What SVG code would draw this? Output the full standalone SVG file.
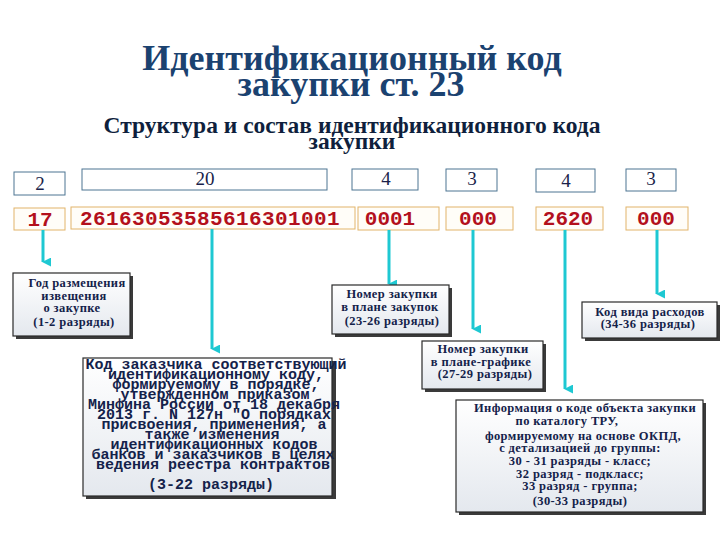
<svg xmlns="http://www.w3.org/2000/svg" width="720" height="540" viewBox="0 0 720 540">
<defs>
<linearGradient id="bg" x1="0" y1="0" x2="0" y2="1">
<stop offset="0" stop-color="#ffffff"/>
<stop offset="1" stop-color="#e4e8ee"/>
</linearGradient>
<marker id="ah" viewBox="0 0 10 10" refX="5" refY="9" markerWidth="9" markerHeight="9" markerUnits="userSpaceOnUse" orient="auto-start-reverse">
<path d="M0,0 L10,0 L5,10 Z" fill="#1ec8d2"/>
</marker>
<style>
.title{font-family:"Liberation Serif","DejaVu Serif",serif;font-weight:700;fill:#1b4270;text-anchor:middle}
.sub{font-family:"Liberation Serif","DejaVu Serif",serif;font-weight:700;fill:#0f1f3d;text-anchor:middle}
.cnt{fill:#ffffff;stroke:#4d7592;stroke-width:1}
.cntt{font-family:"Liberation Serif",serif;font-size:19px;fill:#1a1f4a;text-anchor:middle}
.val{fill:#fffdf8;stroke:#e2b46a;stroke-width:1}
.valt{font-family:"Liberation Mono",monospace;font-weight:bold;font-size:21px;fill:#b3101c;text-anchor:middle}
.sh{fill:#3a3a3a}
.box{fill:url(#bg);stroke:#2a2a2a;stroke-width:1.2}
.bt{font-family:"Liberation Serif",serif;font-weight:700;font-size:12.5px;letter-spacing:0.4px;fill:#14224a;text-anchor:middle}
.mt{font-family:"Liberation Mono",monospace;font-weight:bold;font-size:15px;fill:#14224a;text-anchor:middle}
.conn{stroke:#1ec8d2;stroke-width:3;fill:none;marker-end:url(#ah)}
</style>
</defs>
<rect width="720" height="540" fill="#ffffff"/>

<g id="title">
<text class="title" x="352" y="70" font-size="36">Идентификационный код</text>
<text class="title" x="351" y="96" font-size="36">закупки ст. 23</text>
<text class="sub" x="352" y="133" font-size="23.5">Структура и состав идентификационного кода</text>
<text class="sub" x="352" y="149" font-size="23.5">закупки</text>
</g>

<g id="count-row">
<g id="c1"><rect class="cnt" x="14" y="172" width="51" height="23"/><text class="cntt" x="40" y="190">2</text></g>
<g id="c2"><rect class="cnt" x="82" y="169" width="245" height="21"/><text class="cntt" x="205" y="185">20</text></g>
<g id="c3"><rect class="cnt" x="352" y="169" width="66" height="21"/><text class="cntt" x="386" y="185">4</text></g>
<g id="c4"><rect class="cnt" x="446" y="169" width="51" height="22"/><text class="cntt" x="472" y="185">3</text></g>
<g id="c5"><rect class="cnt" x="536" y="169" width="59" height="23"/><text class="cntt" x="566" y="187">4</text></g>
<g id="c6"><rect class="cnt" x="626" y="169" width="50" height="22"/><text class="cntt" x="651" y="185">3</text></g>
</g>

<g id="value-row">
<g id="v1"><rect class="val" x="14" y="208" width="51" height="22"/><text class="valt" x="40" y="226">17</text></g>
<g id="v2"><rect class="val" x="71" y="207" width="284" height="22"/><text class="valt" x="210" y="225" letter-spacing="0.4">26163053585616301001</text></g>
<g id="v3"><rect class="val" x="358" y="207" width="81" height="23"/><text class="valt" x="390" y="225">0001</text></g>
<g id="v4"><rect class="val" x="446" y="207" width="67" height="23"/><text class="valt" x="478" y="225">000</text></g>
<g id="v5"><rect class="val" x="536" y="207" width="67" height="23"/><text class="valt" x="568" y="225">2620</text></g>
<g id="v6"><rect class="val" x="626" y="207" width="62" height="23"/><text class="valt" x="656" y="225">000</text></g>
</g>

<g id="connectors">
<line class="conn" x1="43" y1="230" x2="43" y2="262"/>
<line class="conn" x1="212" y1="229" x2="212" y2="349"/>
<line class="conn" x1="389" y1="230" x2="389" y2="284"/>
<line class="conn" x1="473" y1="230" x2="473" y2="329"/>
<line class="conn" x1="565" y1="230" x2="565" y2="389"/>
<line class="conn" x1="657" y1="230" x2="657" y2="294"/>
</g>

<g id="n-year">
<rect class="sh" x="16" y="276" width="117" height="63"/>
<rect class="box" x="13" y="273" width="117" height="63"/>
<text class="bt" x="77" y="287">Год размещения</text>
<text class="bt" x="74" y="300">извещения</text>
<text class="bt" x="72" y="312">о закупке</text>
<text class="bt" x="74" y="326">(1-2 разряды)</text>
</g>

<g id="n-plan">
<rect class="sh" x="335" y="288" width="117" height="49"/>
<rect class="box" x="332" y="285" width="117" height="49"/>
<text class="bt" x="392" y="298">Номер закупки</text>
<text class="bt" x="390" y="311">в плане закупок</text>
<text class="bt" x="392" y="325">(23-26 разряды)</text>
</g>

<g id="n-schedule">
<rect class="sh" x="425" y="344" width="121" height="48"/>
<rect class="box" x="422" y="341" width="121" height="48"/>
<text class="bt" x="483" y="353">Номер закупки</text>
<text class="bt" x="481" y="366">в плане-графике</text>
<text class="bt" x="485" y="378">(27-29 разряды)</text>
</g>

<g id="n-expense">
<rect class="sh" x="585" y="305" width="135" height="36"/>
<rect class="box" x="582" y="302" width="135" height="36"/>
<text class="bt" x="650" y="316">Код вида расходов</text>
<text class="bt" x="648" y="328">(34-36 разряды)</text>
</g>

<g id="n-customer">
<rect class="sh" x="86" y="361" width="250" height="138"/>
<rect class="box" x="83" y="358" width="249" height="138"/>
<text class="mt" x="216" y="369">Код заказчика соответствующий</text>
<text class="mt" x="216" y="379">идентификационному коду,</text>
<text class="mt" x="216" y="389">формируемому в порядке,</text>
<text class="mt" x="215" y="399">утвержденном приказом</text>
<text class="mt" x="214" y="409">Минфина России от 18 декабря</text>
<text class="mt" x="214" y="419">2013 г. N 127н "О порядках</text>
<text class="mt" x="214" y="429">присвоения, применения, а</text>
<text class="mt" x="212" y="439">также изменения</text>
<text class="mt" x="214" y="449">идентификационных кодов</text>
<text class="mt" x="213" y="459">банков и заказчиков в целях</text>
<text class="mt" x="213" y="469">ведения реестра контрактов</text>
<text class="mt" x="211" y="489" font-size="13.5">(3-22 разряды)</text>
</g>

<g id="n-okpd">
<rect class="sh" x="459" y="403" width="247" height="112"/>
<rect class="box" x="456" y="400" width="247" height="112"/>
<text class="bt" x="585" y="412">Информация о коде объекта закупки</text>
<text class="bt" x="567" y="425">по каталогу ТРУ,</text>
<text class="bt" x="583" y="440">формируемому на основе ОКПД,</text>
<text class="bt" x="580" y="452">с детализацией до группы:</text>
<text class="bt" x="580" y="465">30 - 31 разряды - класс;</text>
<text class="bt" x="580" y="478">32 разряд - подкласс;</text>
<text class="bt" x="580" y="490">33 разряд - группа;</text>
<text class="bt" x="580" y="505">(30-33 разряды)</text>
</g>
</svg>
